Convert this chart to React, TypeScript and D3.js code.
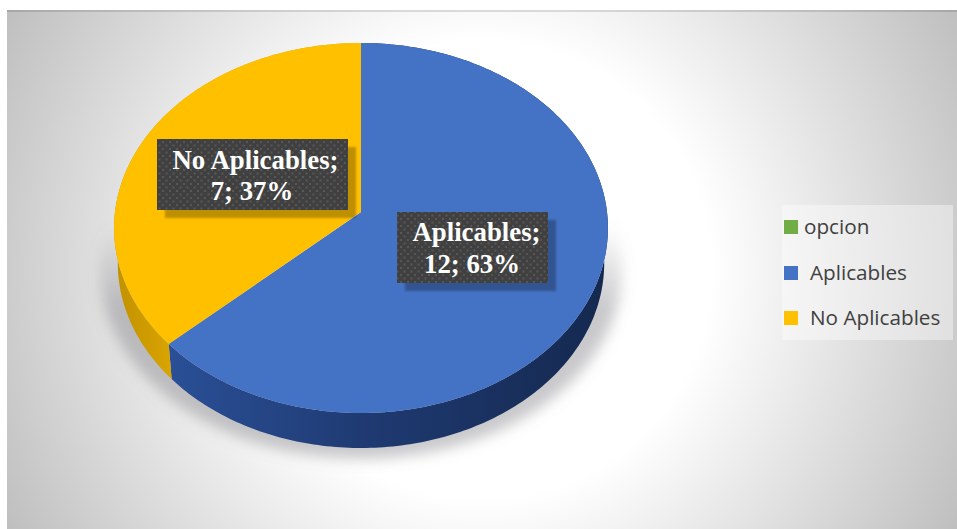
import * as d3 from "d3";

// Series shown in the legend and the pie; "opcion" carries no share of the total.
const categories = ["opcion", "Aplicables", "No Aplicables"];
const values = [0, 12, 7];
const topColors = ["#70ad47", "#4472c4", "#ffc000"];
const sideGradients = ["sideGreen", "sideBlue", "sideYellow"];

const W = 957;
const H = 529;

// Tilted disc: unit-circle points are mapped through a small perspective term.
const disc = { cx: 361, cy: 212, a: 246, b: 183.6, k: -0.0865, depth: 35 };

function project(angle: number, drop = 0): [number, number] {
  const u = Math.sin(angle);
  const v = -Math.cos(angle);
  const den = 1 + disc.k * v;
  const shrink = drop > 0 ? 0.985 : 1;
  return [
    disc.cx + (disc.a * shrink * u) / den,
    disc.cy + (disc.b * v) / den + drop,
  ];
}

const line = d3.line<[number, number]>();
const samples = (a0: number, a1: number) => {
  const n = Math.max(2, Math.ceil((a1 - a0) * 60));
  return d3.range(n + 1).map((i) => a0 + ((a1 - a0) * i) / n);
};

const total = d3.sum(values);
const slices = d3
  .pie<number>()
  .sort(null)
  .value((d) => d)(values);

// Data-label boxes, keyed by series index
const labelBoxes = [
  { i: 2, x: 157, y: 139, w: 191, h: 71, base: [169, 200], cx: 255.5, cx2: 252 },
  { i: 1, x: 397, y: 212, w: 151, h: 71, base: [241, 273], cx: 476.5, cx2: 472 },
];

const legendRows = [
  { y: 220, tx: 804, base: 234 },
  { y: 266, tx: 810, base: 280 },
  { y: 311, tx: 810, base: 325 },
];

export default function App() {
  return (
    <svg
      width={W}
      height={H}
      viewBox={`0 0 ${W} ${H}`}
      style={{ position: "absolute", left: 0, top: 0, display: "block" }}
    >
      <defs>
        <radialGradient id="bg" gradientUnits="userSpaceOnUse" cx={482} cy={270} r={545}>
          <stop offset="0.42" stopColor="#ffffff" />
          <stop offset="0.6" stopColor="#ebebeb" />
          <stop offset="1" stopColor="#bebebe" />
        </radialGradient>
        <linearGradient id="sideBlue" gradientUnits="userSpaceOnUse" x1={170} x2={607} y1={0} y2={0}>
          <stop offset="0" stopColor="#2a4f96" />
          <stop offset="0.45" stopColor="#1f3a72" />
          <stop offset="1" stopColor="#15294f" />
        </linearGradient>
        <linearGradient id="sideYellow" gradientUnits="userSpaceOnUse" x1={114} x2={175} y1={0} y2={0}>
          <stop offset="0" stopColor="#c09000" />
          <stop offset="1" stopColor="#dba600" />
        </linearGradient>
        <linearGradient id="sideGreen" gradientUnits="userSpaceOnUse" x1={0} x2={1} y1={0} y2={0}>
          <stop offset="0" stopColor="#548235" />
        </linearGradient>
        <linearGradient id="shadowFade" gradientUnits="userSpaceOnUse" x1={0} x2={0} y1={225} y2={310}>
          <stop offset="0" stopColor="#7c7c84" stopOpacity={0} />
          <stop offset="1" stopColor="#7c7c84" stopOpacity={0.42} />
        </linearGradient>
        <filter id="soft" x="-20%" y="-20%" width="140%" height="140%">
          <feGaussianBlur stdDeviation="7" />
        </filter>
        <filter id="softBox" x="-10%" y="-10%" width="120%" height="120%">
          <feGaussianBlur stdDeviation="1" />
        </filter>
        <pattern id="dots" width="7" height="7" patternUnits="userSpaceOnUse">
          <rect width="7" height="7" fill="#404040" />
          <rect x="1" y="1" width="2" height="2" fill="#575757" />
          <rect x="4.5" y="4.5" width="2" height="2" fill="#575757" />
        </pattern>
      </defs>

      <rect x={7} y={10} width={W - 7} height={H - 10} fill="url(#bg)" />
      <rect x={7} y={10} width={W - 7} height={2} fill="#000" opacity={0.12} />

      {/* Ground shadow under the disc */}
      <ellipse
        cx={361}
        cy={270}
        rx={261}
        ry={189}
        fill="url(#shadowFade)"
        filter="url(#soft)"
      />

      {/* Disc walls */}
      {slices.map((s, i) => {
        if (s.endAngle - s.startAngle <= 0) return null;
        const as = samples(s.startAngle, s.endAngle);
        const pts = [
          ...as.map((a) => project(a)),
          ...as.slice().reverse().map((a) => project(a, disc.depth)),
        ];
        return (
          <path key={i} d={line(pts) + "Z"} fill={`url(#${sideGradients[i]})`} />
        );
      })}

      {/* Disc top */}
      {slices.map((s, i) => {
        if (s.endAngle - s.startAngle <= 0) return null;
        const rim = samples(s.startAngle, s.endAngle).map((a) => project(a));
        const pts: [number, number][] = [[disc.cx, disc.cy], ...rim];
        return <path key={i} d={line(pts) + "Z"} fill={topColors[i]} />;
      })}

      {/* Data labels */}
      {labelBoxes.map((b) => {
        const pct = Math.round((values[b.i] / total) * 100);
        return (
          <g key={b.i}>
            <rect
              x={b.x + 8}
              y={b.y + 8}
              width={b.w}
              height={b.h}
              fill="#000"
              opacity={0.25}
              filter="url(#softBox)"
            />
            <rect x={b.x} y={b.y} width={b.w} height={b.h} fill="url(#dots)" />
            <text
              x={b.cx}
              y={b.base[0]}
              textAnchor="middle"
              fontFamily="'Liberation Serif', serif"
              fontWeight="bold"
              fontSize={26.8}
              fill="#fff"
            >
              {categories[b.i]};
            </text>
            <text
              x={b.cx2}
              y={b.base[1]}
              textAnchor="middle"
              fontFamily="'Liberation Serif', serif"
              fontWeight="bold"
              fontSize={26.8}
              fill="#fff"
            >
              {`${values[b.i]}; ${pct}%`}
            </text>
          </g>
        );
      })}

      {/* Legend */}
      <rect x={782} y={205} width={171} height={135} fill="#fff" opacity={0.4} />
      {categories.map((c, i) => (
        <g key={c}>
          <rect x={784} y={legendRows[i].y} width={14} height={14} fill={topColors[i]} />
          <text
            x={legendRows[i].tx}
            y={legendRows[i].base}
            fontFamily="'Open Sans', sans-serif"
            fontSize={20.7}
            fill="#404040"
          >
            {c}
          </text>
        </g>
      ))}
    </svg>
  );
}
